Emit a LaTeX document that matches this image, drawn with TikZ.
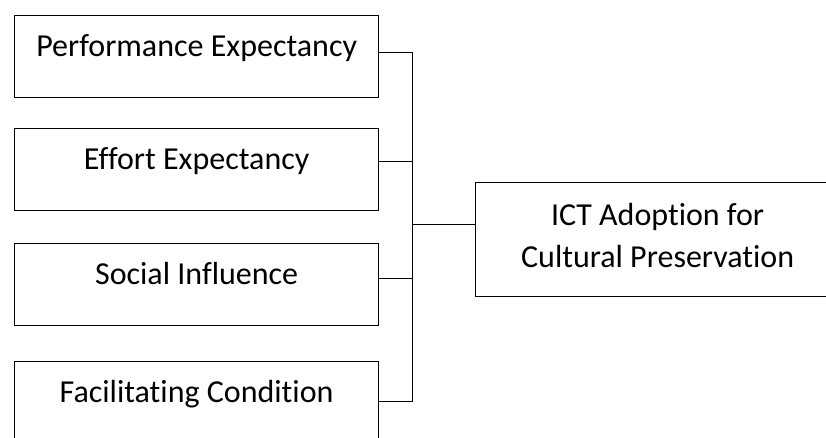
\documentclass[tikz,border=0pt]{standalone}
\usepackage{fontspec}
\setmainfont{Carlito}[Ligatures=NoCommon]
\begin{document}
\begin{tikzpicture}[x=1pt,y=-1pt,
  factor/.style={draw,line width=1.3pt,rectangle,inner sep=0pt,minimum width=364pt,
    text height=41pt,text depth=41pt,anchor=north west,font=\fontsize{32}{42}\selectfont},
  outcome/.style={draw,line width=1.3pt,rectangle,inner sep=0pt,minimum width=364pt,
    text height=85pt,text depth=29pt,align=center,anchor=north west,font=\fontsize{32}{42}\selectfont},
  conn/.style={line width=0.9pt}]
\useasboundingbox (0,0) rectangle (826,437);
\clip (0,0) rectangle (826,437);
\node[factor] (b1) at (14,15) {Performance Expectancy};
\node[factor] (b2) at (14,127.5) {Effort Expectancy};
\node[factor] (b3) at (14,243) {Social Influence};
\node[factor] (b4) at (14,361) {Facilitating Condition};
\node[outcome] (out) at (475,182) {ICT Adoption for\\Cultural Preservation};
\coordinate (jt) at (412,52);
\coordinate (jb) at (412,401);
\draw[conn] (b1.east |- jt) -- (jt) -- (jb) -- (b4.east |- jb);
\draw[conn] (b2.east |- 0,161) -- (jt |- 0,161);
\draw[conn] (b3.east |- 0,278) -- (jt |- 0,278);
\draw[conn] (jt |- 0,224) -- (out.west |- 0,224);
\end{tikzpicture}
\end{document}
